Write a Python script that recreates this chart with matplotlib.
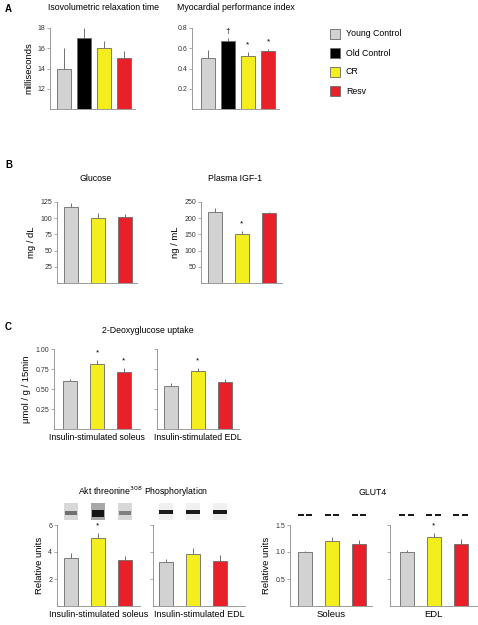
import numpy as np
import matplotlib.pyplot as plt
from matplotlib.patches import Rectangle

plt.rcParams['font.family'] = ['Liberation Sans', 'DejaVu Sans']

W, H = 478, 625

groups = ['Young Control', 'Old Control', 'CR', 'Resv']
colors4 = ['#d2d2d2', '#000000', '#f4ef1c', '#e8202a']
colors3 = [colors4[0], colors4[2], colors4[3]]

# panel A
ivrt = [14.0, 17.0, 16.0, 15.0]
ivrt_err = [2.0, 1.0, 0.7, 0.7]
mpi = [0.50, 0.67, 0.52, 0.575]
mpi_err = [0.08, 0.03, 0.04, 0.02]
mpi_marks = ['', '\u2020', '*', '*']

# panel B
glucose = [118, 100, 102]
glucose_err = [6, 8, 4]
igf1 = [220, 150, 215]
igf1_err = [12, 10, 5]
igf1_marks = ['', '*', '']

# panel C - 2-deoxyglucose
dg_soleus = [0.60, 0.81, 0.71]
dg_soleus_err = [0.03, 0.05, 0.05]
dg_soleus_marks = ['', '*', '*']
dg_edl = [0.54, 0.725, 0.59]
dg_edl_err = [0.04, 0.04, 0.035]
dg_edl_marks = ['', '*', '']

# Akt
akt_soleus = [3.55, 5.03, 3.40]
akt_soleus_err = [0.35, 0.40, 0.33]
akt_soleus_marks = ['', '*', '']
akt_edl = [3.25, 3.87, 3.33]
akt_edl_err = [0.20, 0.43, 0.43]

# GLUT4
glut4_soleus = [1.00, 1.21, 1.15]
glut4_soleus_err = [0.01, 0.07, 0.07]
glut4_edl = [1.00, 1.28, 1.15]
glut4_edl_err = [0.03, 0.08, 0.09]
glut4_edl_marks = ['', '*', '']

fig = plt.figure(figsize=(W / 100, H / 100), dpi=100)


def px_axes(x0, top, x1, bottom):
    return fig.add_axes([x0 / W, 1 - bottom / H, (x1 - x0) / W, (bottom - top) / H])


def bar_panel(rect, first, step, vals, errs, colors, ylim, yticks, ticklabels=True, marks=None, ylabel=None):
    x0, top, x1, bottom = rect
    ax = px_axes(x0, top, x1, bottom)
    n = len(vals)
    pos = np.arange(n)
    ax.bar(pos, vals, width=14 / step, color=colors, edgecolor='#6a6a6a', linewidth=0.6, zorder=2)
    ax.errorbar(pos, vals, yerr=[np.zeros(n), errs], fmt='none', ecolor='#707070', elinewidth=0.7, capsize=0, zorder=1)
    ax.set_xlim(-(first - x0) / step, (n - 1) + (x1 - (first + step * (n - 1))) / step)
    ax.set_ylim(*ylim)
    ax.set_yticks(yticks)
    if not ticklabels:
        ax.set_yticklabels([])
    ax.set_xticks([])
    for s in ['top', 'right']:
        ax.spines[s].set_visible(False)
    for s in ['left', 'bottom']:
        ax.spines[s].set_color('#8a8a8a')
        ax.spines[s].set_linewidth(0.6)
    ax.tick_params(axis='y', length=2, width=0.5, color='#8a8a8a', labelsize=5, labelcolor='#333333', pad=1.5)
    if marks:
        for i, m in enumerate(marks):
            if m:
                ax.annotate(m, (i, vals[i] + errs[i]), xytext=(0, 2.5), textcoords='offset points',
                            ha='center', va='bottom', fontsize=6)
    if ylabel:
        ax.set_ylabel(ylabel, fontsize=6.8, labelpad=3)
    return ax


# ---- A ----
bar_panel((50, 28, 135, 109), 63.5, 20.3, ivrt, ivrt_err, colors4, (10, 18), [12, 14, 16, 18],
          ylabel='milliseconds')
bar_panel((192, 28, 279, 109), 207.5, 20.2, mpi, mpi_err, colors4, (0, 0.8), [0.2, 0.4, 0.6, 0.8],
          marks=mpi_marks)
fig.text(5 / W, 1 - 12 / H, 'A', fontsize=7, fontweight='bold')
fig.text(103 / W, 1 - 10 / H, 'Isovolumetric relaxation time', fontsize=6.3, ha='center')
fig.text(236 / W, 1 - 10 / H, 'Myocardial performance index', fontsize=6.3, ha='center')

leg_y = [34, 53, 72, 91]
for g, c, yy in zip(groups, colors4, leg_y):
    fig.add_artist(Rectangle((330 / W, 1 - (yy + 5) / H), 10 / W, 10 / H, transform=fig.transFigure,
                             facecolor=c, edgecolor='#6a6a6a', linewidth=0.6))
    fig.text(346 / W, 1 - yy / H, g, fontsize=6.3, va='center')

# ---- B ----
bar_panel((57, 202, 137, 283), 70.5, 27, glucose, glucose_err, colors3, (0, 125), [25, 50, 75, 100, 125],
          ylabel='mg / dL')
bar_panel((201, 202, 282, 283), 214.5, 27, igf1, igf1_err, colors3, (0, 250), [50, 100, 150, 200, 250],
          marks=igf1_marks, ylabel='ng / mL')
fig.text(5 / W, 1 - 168 / H, 'B', fontsize=7, fontweight='bold')
fig.text(96 / W, 1 - 181 / H, 'Glucose', fontsize=6.3, ha='center')
fig.text(235 / W, 1 - 181 / H, 'Plasma IGF-1', fontsize=6.3, ha='center')

# ---- C: 2-DG ----
ax = bar_panel((54, 349, 140, 429), 70, 27, dg_soleus, dg_soleus_err, colors3, (0, 1.0),
               [0.25, 0.5, 0.75, 1.0], marks=dg_soleus_marks, ylabel='\u03bcmol / g / 15min')
ax.yaxis.set_major_formatter(plt.FormatStrFormatter('%.2f'))
ax.set_xlabel('Insulin-stimulated soleus', fontsize=6.3, labelpad=3)
ax = bar_panel((157, 349, 239, 429), 171, 27, dg_edl, dg_edl_err, colors3, (0, 1.0),
               [0.25, 0.5, 0.75, 1.0], ticklabels=False, marks=dg_edl_marks)
ax.set_xlabel('Insulin-stimulated EDL', fontsize=6.3, labelpad=3)
fig.text(5 / W, 1 - 330 / H, 'C', fontsize=7, fontweight='bold')
fig.text(148 / W, 1 - 333 / H, '2-Deoxyglucose uptake', fontsize=6.3, ha='center')

# ---- Akt ----
ax1 = bar_panel((57, 525, 140, 606), 71, 27, akt_soleus, akt_soleus_err, colors3, (0, 6), [2, 4, 6],
                marks=akt_soleus_marks, ylabel='Relative units')
ax1.set_xlabel('Insulin-stimulated soleus', fontsize=6.5, labelpad=3)
ax2 = bar_panel((153, 525, 245, 606), 166, 27, akt_edl, akt_edl_err, colors3, (0, 6), [2, 4, 6],
                ticklabels=False)
ax2.set_xlabel('Insulin-stimulated EDL', fontsize=6.5, labelpad=3)
fig.text(143 / W, 1 - 495 / H, 'Akt threonine$^{308}$ Phosphorylation', fontsize=6.3, ha='center')

# blot strips (decoration)
tr = ax1.get_xaxis_transform()
for i, (bg, band, bh) in enumerate([('#d8d8d8', '#707070', 0.05), ('#a8a8a8', '#151515', 0.09),
                                     ('#d8d8d8', '#808080', 0.05)]):
    ax1.add_patch(Rectangle((i - 0.27, 1.06), 0.54, 0.21, transform=tr, facecolor=bg,
                            edgecolor='none', clip_on=False))
    ax1.add_patch(Rectangle((i - 0.24, 1.145 - bh / 2), 0.48, bh, transform=tr, facecolor=band,
                            edgecolor='none', clip_on=False))
tr = ax2.get_xaxis_transform()
for i, bh in enumerate([0.045, 0.06, 0.06]):
    ax2.add_patch(Rectangle((i - 0.27, 1.06), 0.54, 0.21, transform=tr, facecolor='#f0f0f0',
                            edgecolor='none', clip_on=False))
    ax2.add_patch(Rectangle((i - 0.25, 1.16 - bh / 2), 0.5, bh, transform=tr, facecolor='#1a1a1a',
                            edgecolor='none', clip_on=False))

# ---- GLUT4 ----
ax3 = bar_panel((290, 525, 372, 606), 305, 27, glut4_soleus, glut4_soleus_err, colors3, (0, 1.5),
                [0.5, 1.0, 1.5], ylabel='Relative units')
ax3.yaxis.set_major_formatter(plt.FormatStrFormatter('%.1f'))
ax3.set_xlabel('Soleus', fontsize=6.8, labelpad=3)
ax4 = bar_panel((390, 525, 477, 606), 406.5, 27, glut4_edl, glut4_edl_err, colors3, (0, 1.5),
                [0.5, 1.0, 1.5], ticklabels=False, marks=glut4_edl_marks)
ax4.set_xlabel('EDL', fontsize=6.8, labelpad=3)
fig.text(373 / W, 1 - 495 / H, 'GLUT4', fontsize=6.3, ha='center')

for a in (ax3, ax4):
    tr = a.get_xaxis_transform()
    for i in range(3):
        a.add_patch(Rectangle((i - 0.27, 1.105), 0.23, 0.03, transform=tr, facecolor='#1a1a1a',
                              edgecolor='none', clip_on=False))
        a.add_patch(Rectangle((i + 0.04, 1.105), 0.23, 0.03, transform=tr, facecolor='#1a1a1a',
                              edgecolor='none', clip_on=False))

fig.savefig('out.png', dpi=100)
